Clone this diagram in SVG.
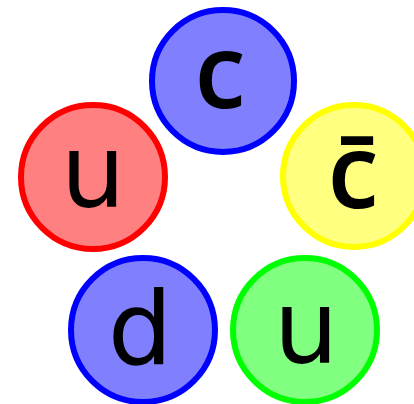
<svg xmlns="http://www.w3.org/2000/svg" width="414" height="404" viewBox="0 0 414 404">
<style>
.q{stroke-width:6}
.b{fill:#8080ff;stroke:#0000ff}
.r{fill:#ff8080;stroke:#ff0000}
.y{fill:#ffff80;stroke:#ffff00}
.g{fill:#80ff80;stroke:#00ff00}
text{font-family:"DejaVu Sans",sans-serif;font-size:102px;fill:#000;text-anchor:middle}
text.k{font-family:"Open Sans",sans-serif;font-weight:600;font-size:103px}
</style>
<rect width="414" height="404" fill="#fff"/>
<g id="top-c"><circle class="q b" cx="223" cy="81" r="71"/><text class="k" x="220" y="108">c</text></g>
<g id="left-u"><circle class="q r" cx="93" cy="177" r="72"/><text x="93" y="207">u</text></g>
<g id="right-cbar"><circle class="q y" cx="354" cy="176" r="71"/><text class="k" x="353" y="208">c̄</text></g>
<g id="bottom-d"><circle class="q b" cx="143" cy="330" r="72"/><text x="140" y="364">d</text></g>
<g id="bottom-u"><circle class="q g" cx="305" cy="330" r="72"/><text x="306" y="363">u</text></g>
<g id="connectors"/>
</svg>
